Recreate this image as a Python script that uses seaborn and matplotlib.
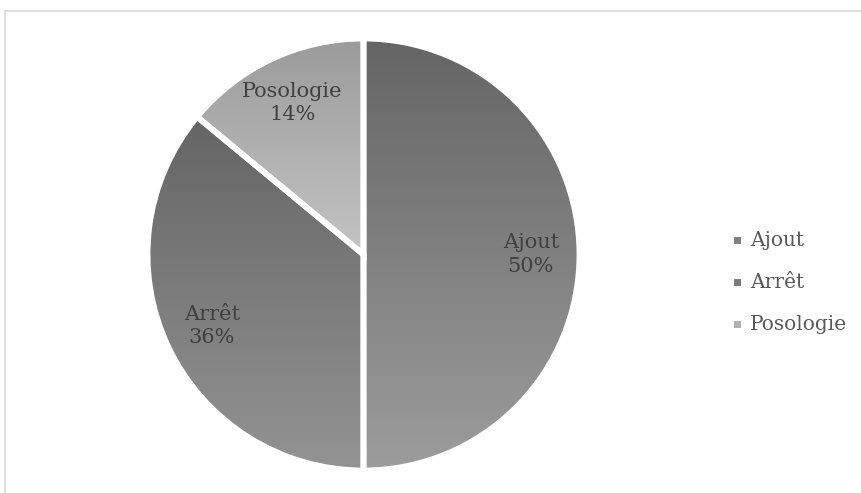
import matplotlib
matplotlib.use('Agg')
import matplotlib.pyplot as plt
import seaborn as sns
import numpy as np
from matplotlib.patches import Rectangle
from matplotlib.lines import Line2D

sns.set_theme(style='white')
plt.rcParams['font.family'] = ['DejaVu Serif']

labels = ['Ajout', 'Arrêt', 'Posologie']
values = [50, 36, 14]
# gradient (top colour, bottom colour) for each slice
grad_top = ['#656565', '#656565', '#9b9b9b']
grad_bottom = ['#9c9c9c', '#939393', '#c4c4c4']

W, H = 862, 493
fig = plt.figure(figsize=(W / 100, H / 100), dpi=100)

# chart frame (cut off on the right and bottom, like the source)
fig.add_artist(Line2D([5.5 / W, 5.5 / W], [0, 1 - 10.5 / H], color='#d9d9d9', lw=1.2))
fig.add_artist(Line2D([5.5 / W, 1], [1 - 10.5 / H, 1 - 10.5 / H], color='#d9d9d9', lw=1.2))

cx, cy, r = 363.5, 254.5, 216
ax = fig.add_axes([(cx - r) / W, (H - cy - r) / H, 2 * r / W, 2 * r / H])

wedges, _ = ax.pie(values, startangle=90, counterclock=False, radius=1,
                   wedgeprops=dict(linewidth=0))
grad = np.linspace(0, 1, 256).reshape(-1, 1)
for w, top, bot in zip(wedges, grad_top, grad_bottom):
    w.set_facecolor('none')
    ext = w.get_path().get_extents()
    cmap = sns.blend_palette([top, bot], as_cmap=True)
    im = ax.imshow(grad, cmap=cmap, aspect='auto', origin='upper',
                   extent=(ext.x0, ext.x1, ext.y0, ext.y1), zorder=1)
    im.set_clip_path(w)
    w.set_edgecolor('white')
    w.set_linewidth(4.2)
    w.set_zorder(3)
    w.set_clip_on(False)

# slice labels
for w, lab, v in zip(wedges, labels, values):
    ang = np.deg2rad((w.theta1 + w.theta2) / 2)
    ax.text(0.775 * np.cos(ang), 0.775 * np.sin(ang), f'{lab}\n{v}%',
            ha='center', va='center', fontsize=15, color='#404040',
            linespacing=1.3, zorder=5)

ax.set_xlim(-1, 1)
ax.set_ylim(-1, 1)
ax.set_aspect('equal')
ax.axis('off')

# legend
leg_y = [240, 282, 324]
for lab, top, bot, y in zip(labels, grad_top, grad_bottom, leg_y):
    mid = sns.blend_palette([top, bot], 3)[1]
    fig.add_artist(Rectangle((734 / W, (H - y - 4) / H), 7 / W, 7 / H,
                             transform=fig.transFigure, facecolor=mid, edgecolor='none'))
    fig.text(750 / W, (H - y) / H, lab, ha='left', va='center',
             fontsize=14.5, color='#595959')

plt.savefig('out.png', dpi=100)
plt.close()
